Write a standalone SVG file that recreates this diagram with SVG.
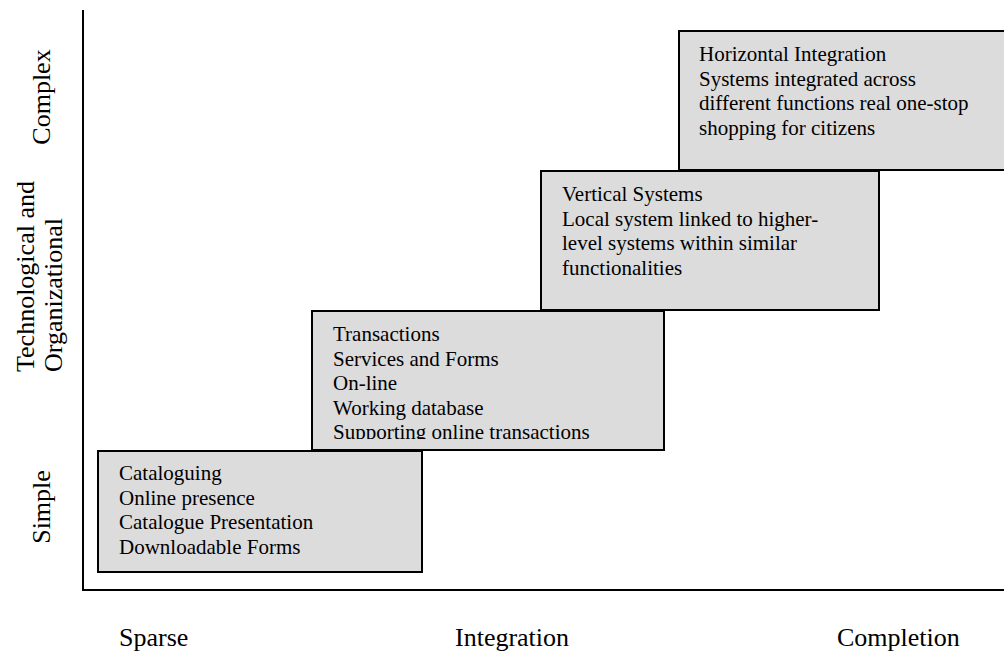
<svg xmlns="http://www.w3.org/2000/svg" width="1004" height="652" viewBox="0 0 1004 652">
<style>
.box{fill:#dcdcdc;stroke:#000;stroke-width:2}
.boxtext{font-family:"Liberation Serif","Times New Roman",serif;font-size:21px;fill:#000}
.ax{font-family:"Liberation Serif","Times New Roman",serif;font-size:26px;fill:#000}
.axis{stroke:#000;stroke-width:2;fill:none}
</style>
<defs>
<clipPath id="c2"><rect x="312" y="311" width="352" height="128"/></clipPath>
</defs>
<rect width="1004" height="652" fill="#fff"/>
<g id="axes">
<path class="axis" d="M83 10 V590 H1004"/>
</g>
<g id="n1">
<rect class="box" x="98" y="451" width="324" height="121"/>
<g class="boxtext" font-family="Liberation Serif, serif" font-size="21">
<text x="119" y="480">Cataloguing</text>
<text x="119" y="504.5">Online presence</text>
<text x="119" y="529">Catalogue Presentation</text>
<text x="119" y="553.5">Downloadable Forms</text>
</g>
</g>
<g id="n2">
<rect class="box" x="312" y="311" width="352" height="139"/>
<g class="boxtext" font-family="Liberation Serif, serif" font-size="21" clip-path="url(#c2)">
<text x="333" y="341">Transactions</text>
<text x="333" y="365.5">Services and Forms</text>
<text x="333" y="390">On-line</text>
<text x="333" y="414.5">Working database</text>
<text x="333" y="439">Supporting online transactions</text>
</g>
</g>
<g id="n3">
<rect class="box" x="541" y="171" width="338" height="139"/>
<g class="boxtext" font-family="Liberation Serif, serif" font-size="21">
<text x="562" y="201">Vertical Systems</text>
<text x="562" y="225.5">Local system linked to higher-</text>
<text x="562" y="250">level systems within similar</text>
<text x="562" y="274.5">functionalities</text>
</g>
</g>
<g id="n4">
<rect class="box" x="679" y="31" width="340" height="139"/>
<g class="boxtext" font-family="Liberation Serif, serif" font-size="21">
<text x="699" y="61">Horizontal Integration</text>
<text x="699" y="85.5">Systems integrated across</text>
<text x="699" y="110">different functions real one-stop</text>
<text x="699" y="134.5">shopping for citizens</text>
</g>
</g>
<g id="ylabels">
<text class="ax" transform="translate(50,97) rotate(-90)" text-anchor="middle">Complex</text>
<text class="ax" transform="translate(34,372) rotate(-90)">Technological and</text>
<text class="ax" transform="translate(62,372) rotate(-90)">Organizational</text>
<text class="ax" transform="translate(50,507) rotate(-90)" text-anchor="middle">Simple</text>
</g>
<g id="xlabels">
<text class="ax" x="119" y="646">Sparse</text>
<text class="ax" x="455" y="646">Integration</text>
<text class="ax" x="837" y="646">Completion</text>
</g>
</svg>
